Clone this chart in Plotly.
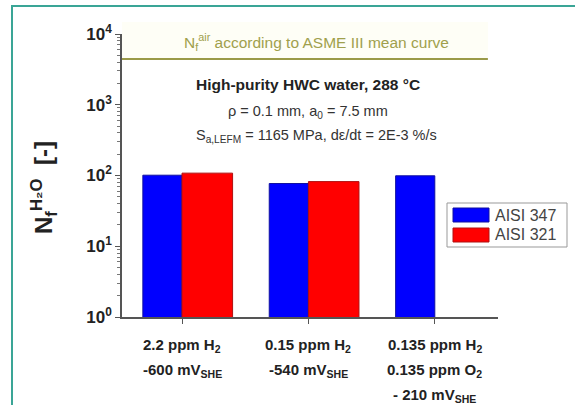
import plotly.graph_objects as go

# ---- data ----
conditions = [
    ["2.2 ppm H<sub>2</sub>", "-600 mV<sub>SHE</sub>"],
    ["0.15 ppm H<sub>2</sub>", "-540 mV<sub>SHE</sub>"],
    ["0.135 ppm H<sub>2</sub>", "0.135 ppm O<sub>2</sub>", "- 210 mV<sub>SHE</sub>"],
]
series_names = ["AISI 347", "AISI 321"]
aisi347 = [101, 77, 99]
aisi321 = [108, 82, None]
n_air = 4430  # ASME III mean curve life
y_tickvals = [1, 10, 100, 1000, 10000]
y_ticktext = ["10<sup>0</sup>", "10<sup>1</sup>", "10<sup>2</sup>", "10<sup>3</sup>", "10<sup>4</sup>"]

# ---- layout geometry (pixels) ----
W, H = 575, 405
L, R, T, B = 122, 498, 34, 317
FONT = "Arial, Liberation Sans, sans-serif"


def xp(px):
    return (px - L) / (R - L)


def yp(py):
    return (B - py) / (B - T)


x_idx = list(range(len(conditions)))
colors = ["#0000ff", "#ff0000"]
edges = ["#1010a0", "#b01010"]

# minor log ticks 2..9 within each decade
minor_vals = [m * 10 ** k for k in range(4) for m in range(2, 10)]

fig = go.Figure()
fig.add_trace(go.Bar(
    x=x_idx, y=aisi347, name=series_names[0], width=0.31, offset=-0.31,
    marker=dict(color=colors[0], line=dict(color=edges[0], width=1)),
    showlegend=False,
))
fig.add_trace(go.Bar(
    x=x_idx, y=aisi321, name=series_names[1], width=0.40, offset=0.0,
    marker=dict(color=colors[1], line=dict(color=edges[1], width=1)),
    showlegend=False,
))
# ASME III mean curve level
fig.add_trace(go.Scatter(
    x=[-0.475, 2.42], y=[n_air, n_air], mode="lines",
    line=dict(color="#9a9a48", width=2.2), showlegend=False, hoverinfo="skip",
))

fig.update_layout(
    width=W, height=H,
    margin=dict(l=L, r=W - R, t=T, b=H - B),
    paper_bgcolor="white", plot_bgcolor="white",
    font=dict(family=FONT, color="#222"),
    barmode="overlay",
    xaxis=dict(
        range=[-0.475, 2.5], tickvals=x_idx, showticklabels=False,
        ticks="outside", ticklen=5, tickcolor="#555", tickwidth=1.2,
        showline=True, linecolor="#555", linewidth=1.5,
        showgrid=False, zeroline=False,
    ),
    yaxis=dict(
        type="log", range=[0, 4], tickvals=y_tickvals,
        ticktext=["<b>" + t + "</b>" for t in y_ticktext],
        ticks="outside", ticklen=5, tickcolor="#555", tickwidth=1.2,
        minor=dict(ticks="outside", ticklen=3, tickcolor="#777", tickvals=minor_vals,
                   showgrid=False),
        tickfont=dict(size=17, color="#222"),
        showline=True, linecolor="#555", linewidth=1.5,
        showgrid=False, zeroline=False,
    ),
)

shapes = []
# faint tint behind the curve label
shapes.append(dict(type="rect", xref="paper", yref="paper",
                   x0=xp(L), x1=xp(488), y0=yp(59), y1=yp(22),
                   fillcolor="#fefef6", line=dict(width=0), layer="below"))
# outer frame
shapes.append(dict(type="rect", xref="paper", yref="paper",
                   x0=xp(12), x1=xp(620), y0=yp(450), y1=yp(6),
                   fillcolor="rgba(0,0,0,0)", line=dict(color="#3aa596", width=2)))

ann = []
ann.append(dict(text="N<sub>f</sub><sup>air</sup> according to ASME III mean curve",
                x=xp(316), y=yp(42), font=dict(size=15.5, color="#a0a04c")))
ann.append(dict(text="<b>High-purity HWC water, 288 °C</b>",
                x=xp(308), y=yp(85), font=dict(size=15.5, color="#222")))
ann.append(dict(text="ρ = 0.1 mm, a<sub>0</sub> = 7.5 mm",
                x=xp(308), y=yp(112), font=dict(size=14.5, color="#333")))
ann.append(dict(text="S<sub>a,LEFM</sub> = 1165 MPa, dε/dt = 2E-3 %/s",
                x=xp(316), y=yp(136), font=dict(size=14.5, color="#333")))

# y-axis title
ann.append(dict(text="<b>N<sub>f</sub><sup>H₂O</sup>  [-]</b>", textangle=-90,
                x=xp(44), y=yp(188), font=dict(size=24, color="#222")))

# multi-line category labels under the axis
line_y = [345, 370, 395]
for i, lines in enumerate(conditions):
    for j, txt in enumerate(lines):
        ann.append(dict(text="<b>" + txt + "</b>", xref="x", x=i, y=yp(line_y[j]),
                        font=dict(size=15, color="#222")))

# legend box
lg_x0, lg_x1, lg_y0, lg_y1 = 447, 567, 203, 247
shapes.append(dict(type="rect", xref="paper", yref="paper",
                   x0=xp(lg_x0), x1=xp(lg_x1), y0=yp(lg_y1), y1=yp(lg_y0),
                   fillcolor="white", line=dict(color="#999", width=1)))
for k, name in enumerate(series_names):
    cy = 215 + k * 20
    shapes.append(dict(type="rect", xref="paper", yref="paper",
                       x0=xp(453), x1=xp(489), y0=yp(cy + 7), y1=yp(cy - 7),
                       fillcolor=colors[k], line=dict(color=edges[k], width=1)))
    ann.append(dict(text=name, x=xp(493), y=yp(cy), xanchor="left",
                    font=dict(size=16, color="#444")))

for a in ann:
    a.setdefault("xref", "paper")
    a.setdefault("yref", "paper")
    a.setdefault("xanchor", "center")
    a.setdefault("yanchor", "middle")
    a.setdefault("showarrow", False)

fig.update_layout(shapes=shapes, annotations=ann)
fig.write_html("out.html")
